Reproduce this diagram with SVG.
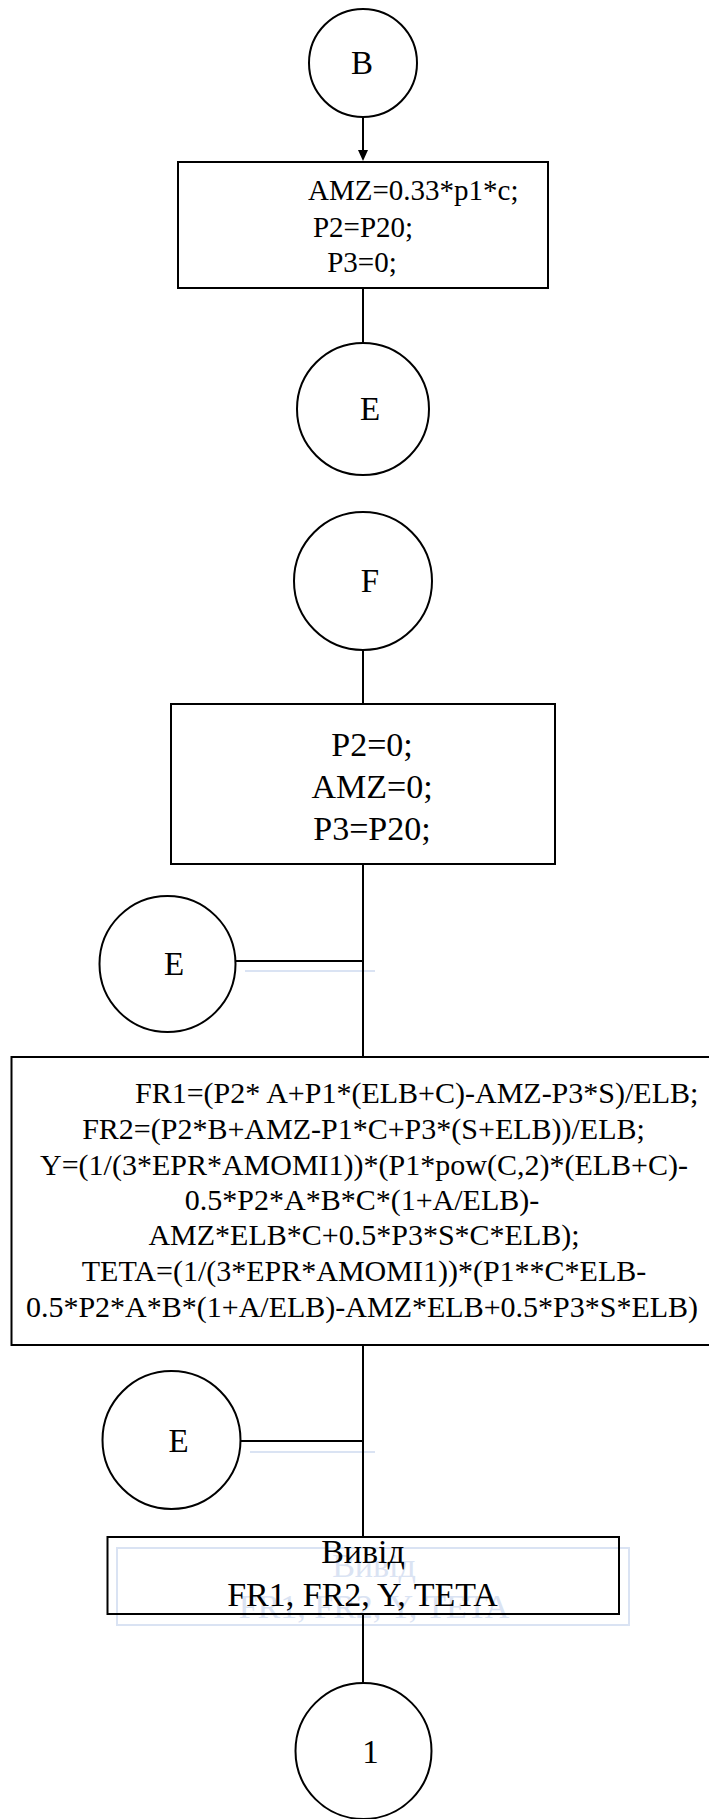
<svg xmlns="http://www.w3.org/2000/svg" width="709" height="1819" viewBox="0 0 709 1819">
<defs>
<style>
.s{fill:none;stroke:#000;stroke-width:2}
.c{fill:#fff;stroke:#000;stroke-width:2}
.t{font-family:"Liberation Serif","Times New Roman",serif;fill:#000}
.m{text-anchor:middle}
.g{fill:none;stroke:#dae3f3;stroke-width:2}
.gt{font-family:"Liberation Serif","Times New Roman",serif;fill:#dae3f3;text-anchor:middle;font-size:34px}
</style>
<marker id="arr" markerWidth="10" markerHeight="12" refX="5" refY="11" orient="auto-start-reverse" markerUnits="userSpaceOnUse" viewBox="0 0 10 12">
<path d="M0,0 L10,0 L5,12 Z" fill="#000" transform="rotate(0)"/>
</marker>
</defs>
<rect width="709" height="1819" fill="#fff"/>

<g id="ghosts">
<line class="g" x1="245" y1="971" x2="375" y2="971"/>
<line class="g" x1="250" y1="1452" x2="375" y2="1452"/>
<rect class="g" x="117" y="1548" width="512" height="77"/>
<text class="gt" x="374" y="1577">Вивід</text>
<text class="gt" x="374" y="1618">FR1, FR2, Y, TETA</text>
</g>

<g id="connectors">
<line class="s" x1="363" y1="117" x2="363" y2="150"/>
<path d="M358,150 L368,150 L363,161 Z" fill="#000"/>
<line class="s" x1="363" y1="288" x2="363" y2="345"/>
<line class="s" x1="363" y1="650" x2="363" y2="704"/>
<line class="s" x1="363" y1="864" x2="363" y2="1057"/>
<line class="s" x1="236" y1="961" x2="363" y2="961"/>
<line class="s" x1="363" y1="1345" x2="363" y2="1537"/>
<line class="s" x1="240" y1="1441" x2="363" y2="1441"/>
<line class="s" x1="363" y1="1614" x2="363" y2="1683"/>
</g>

<g id="node-B">
<circle class="c" cx="363" cy="63" r="54"/>
<text class="t m" x="362" y="74" font-size="33">B</text>
</g>

<g id="node-assign1">
<rect class="c" x="178" y="162" width="370" height="126"/>
<text class="t" x="308" y="200" font-size="29">AMZ=0.33*p1*c;</text>
<text class="t m" x="363" y="237" font-size="29">P2=P20;</text>
<text class="t m" x="362" y="272" font-size="29">P3=0;</text>
</g>

<g id="node-E1">
<circle class="c" cx="363" cy="409" r="66"/>
<text class="t m" x="370" y="420" font-size="33">E</text>
</g>

<g id="node-F">
<circle class="c" cx="363" cy="581" r="69"/>
<text class="t m" x="370" y="592" font-size="33">F</text>
</g>

<g id="node-assign2">
<rect class="c" x="171" y="704" width="384" height="160"/>
<text class="t m" x="372" y="756" font-size="34">P2=0;</text>
<text class="t m" x="372" y="798" font-size="34">AMZ=0;</text>
<text class="t m" x="372" y="840" font-size="34">P3=P20;</text>
</g>

<g id="node-E2">
<circle class="c" cx="167.5" cy="964" r="68"/>
<text class="t m" x="174" y="975" font-size="33">E</text>
</g>

<g id="node-calc">
<rect class="s" x="11.5" y="1057" width="703" height="288"/>
<text class="t" x="135" y="1103" font-size="30">FR1=(P2* A+P1*(ELB+C)-AMZ-P3*S)/ELB;</text>
<text class="t m" x="363.5" y="1139" font-size="30">FR2=(P2*B+AMZ-P1*C+P3*(S+ELB))/ELB;</text>
<text class="t m" x="364" y="1175" font-size="30">Y=(1/(3*EPR*AMOMI1))*(P1*pow(C,2)*(ELB+C)-</text>
<text class="t m" x="362" y="1210" font-size="30">0.5*P2*A*B*C*(1+A/ELB)-</text>
<text class="t m" x="364" y="1245" font-size="30">AMZ*ELB*C+0.5*P3*S*C*ELB);</text>
<text class="t m" x="364" y="1281" font-size="30">TETA=(1/(3*EPR*AMOMI1))*(P1**C*ELB-</text>
<text class="t m" x="362" y="1317" font-size="30">0.5*P2*A*B*(1+A/ELB)-AMZ*ELB+0.5*P3*S*ELB)</text>
</g>

<g id="node-E3">
<circle class="c" cx="171.5" cy="1440" r="69"/>
<text class="t m" x="178.5" y="1452" font-size="33">E</text>
</g>

<g id="node-output">
<rect class="s" x="107.5" y="1537" width="511.5" height="77"/>
<text class="t m" x="363" y="1563" font-size="34">Вивід</text>
<text class="t m" x="362.5" y="1606" font-size="34">FR1, FR2, Y, TETA</text>
</g>

<g id="node-1">
<circle class="c" cx="363.5" cy="1751" r="68"/>
<text class="t m" x="370.5" y="1763" font-size="33">1</text>
</g>
</svg>
